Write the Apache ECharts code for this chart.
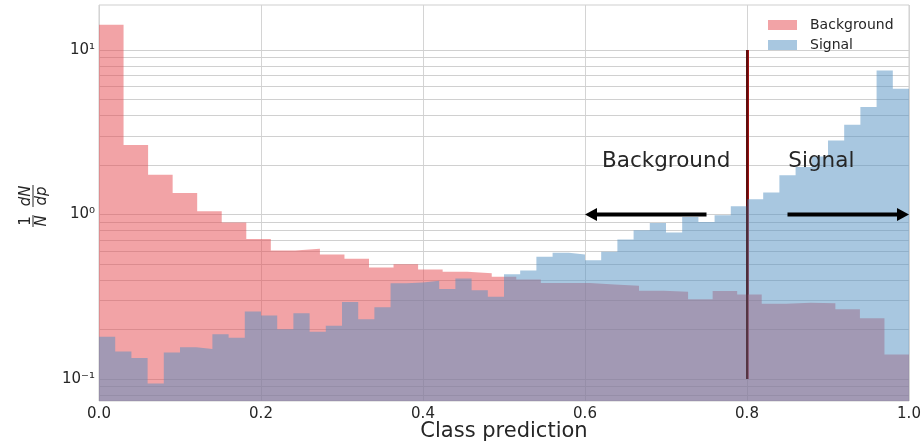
<!DOCTYPE html>
<html><head><meta charset="utf-8">
<script src="https://cdn.jsdelivr.net/npm/echarts@6/dist/echarts.min.js"></script>
<style>html,body{margin:0;padding:0;background:#fff}#c{width:922px;height:446px}</style>
</head><body><div id="c"></div>
<script>
// ---- data ----
const bgBinCount = 33;
const sigBinCount = 50;
const backgroundValues = [14.28, 2.644, 1.748, 1.352, 1.047, 0.894, 0.711, 0.605, 0.620, 0.571,
  0.539, 0.477, 0.499, 0.464, 0.449, 0.440, 0.418, 0.403, 0.384, 0.384,
  0.376, 0.369, 0.344, 0.339, 0.306, 0.343, 0.327, 0.287, 0.291, 0.289,
  0.266, 0.234, 0.141];
const signalValues = [0.181, 0.147, 0.134, 0.094, 0.145, 0.156, 0.152, 0.187, 0.178, 0.257,
  0.243, 0.201, 0.251, 0.194, 0.211, 0.294, 0.231, 0.273, 0.382, 0.386,
  0.396, 0.352, 0.409, 0.347, 0.316, 0.434, 0.457, 0.553, 0.585, 0.572,
  0.528, 0.593, 0.705, 0.803, 0.889, 0.778, 0.967, 0.902, 0.990, 1.123,
  1.238, 1.360, 1.732, 1.945, 2.258, 2.824, 3.516, 4.500, 7.510, 5.820];
const seriesNames = ['Background', 'Signal'];
const xTickValues = [0.0, 0.2, 0.4, 0.6, 0.8, 1.0];
const yTickExponents = [-1, 0, 1];
const yTickLabels = ['10\u207B\u00B9', '10\u2070', '10\u00B9'];
const cutValue = [0.8];
const cutRange = [0.1, 10];
const arrows = [[0.75, 0.6, 1.0], [0.85, 1.0, 1.0]];
const annotations = [[0.621, 2.09, 'Background'], [0.851, 2.09, 'Signal']];

// ---- helpers ----
const Y_MIN = 0.0735, Y_MAX = 18.8;
function stepData(vals, n) {
  const d = vals.map((v, i) => [i / n, v]);
  d.push([1, vals[vals.length - 1]]);
  return d;
}
const gridValues = [];
for (let e = -2; e <= 1; e++) for (let m = 1; m <= 9; m++) {
  const v = +(m * Math.pow(10, e)).toPrecision(3);
  if (v > Y_MIN && v < Y_MAX) gridValues.push(v);
}
const PINK = 'rgba(229,72,77,0.5)';
const BLUE = 'rgba(82,143,194,0.5)';
const TXT = '#262626';
const FONT = 'DejaVu Sans';
const cutLine = cutValue.map(c => [{coord: [c, cutRange[0]]}, {coord: [c, cutRange[1]]}]);

const chart = echarts.init(document.getElementById('c'), null, {renderer: 'canvas'});
chart.setOption({
  animation: false,
  backgroundColor: '#fff',
  grid: {left: 99, right: 13, top: 5, bottom: 45, show: true, borderColor: '#cfcfcf', borderWidth: 1,
    containLabel: false, outerBoundsMode: 'none'},
  legend: {
    orient: 'vertical', left: 768, top: 18, padding: 0, itemWidth: 29, itemHeight: 10, itemGap: 6,
    icon: 'rect',
    textStyle: {fontFamily: FONT, fontSize: 14, color: TXT, padding: [0, 0, 0, 8]},
    data: [{name: seriesNames[0], itemStyle: {color: PINK}}, {name: seriesNames[1], itemStyle: {color: BLUE}}]
  },
  xAxis: {
    type: 'value', min: 0, max: 1, interval: 0.2,
    axisLine: {show: false}, axisTick: {show: false},
    splitLine: {show: true, lineStyle: {color: '#d4d4d4', width: 1}},
    axisLabel: {fontFamily: FONT, fontSize: 15, color: TXT, margin: 6,
      formatter: v => { const i = xTickValues.findIndex(t => Math.abs(t - v) < 1e-9); return i >= 0 ? xTickValues[i].toFixed(1) : ''; }},
    name: 'Class prediction', nameLocation: 'middle', nameGap: 20, nameMoveOverlap: false,
    nameTextStyle: {fontFamily: FONT, fontSize: 21, color: TXT}
  },
  yAxis: {
    type: 'log', logBase: 10, min: Y_MIN, max: Y_MAX,
    axisLine: {show: false}, axisTick: {show: false}, splitLine: {show: false},
    axisLabel: {fontFamily: FONT, fontSize: 15, color: TXT, margin: 4,
      formatter: v => {
        const e = Math.round(Math.log10(v) * 1e6) / 1e6;
        const i = yTickExponents.indexOf(e);
        return i >= 0 ? yTickLabels[i] : '';
      }}
  },
  graphic: [{
    type: 'group', x: 33, y: 206, rotation: Math.PI / 2, silent: true,
    children: [
      {type: 'text', x: -15, y: -7, style: {text: '1', font: '15px "DejaVu Sans"', fill: TXT, align: 'center', verticalAlign: 'middle'}},
      {type: 'line', shape: {x1: -21, y1: 0, x2: -9, y2: 0}, style: {stroke: TXT, lineWidth: 1}},
      {type: 'text', x: -15, y: 9, style: {text: 'N', font: 'italic 15px "DejaVu Sans"', fill: TXT, align: 'center', verticalAlign: 'middle'}},
      {type: 'text', x: 10, y: -7, style: {text: 'dN', font: 'italic 15px "DejaVu Sans"', fill: TXT, align: 'center', verticalAlign: 'middle'}},
      {type: 'line', shape: {x1: -1, y1: 0, x2: 21, y2: 0}, style: {stroke: TXT, lineWidth: 1}},
      {type: 'text', x: 10, y: 9, style: {text: 'dp', font: 'italic 15px "DejaVu Sans"', fill: TXT, align: 'center', verticalAlign: 'middle'}}
    ]
  }],
  series: [
    {
      name: seriesNames[0], type: 'line', step: 'end', z: 2, silent: true,
      data: stepData(backgroundValues, bgBinCount),
      symbol: 'none', showSymbol: false,
      lineStyle: {width: 0, opacity: 0},
      areaStyle: {color: PINK, opacity: 1, origin: 'start'},
      markLine: {
        silent: true, symbol: 'none', z: 1, animation: false,
        label: {show: false},
        lineStyle: {color: '#d0d0d0', width: 1, type: 'solid'},
        emphasis: {disabled: true},
        data: gridValues.map(v => ({yAxis: v}))
      }
    },
    {
      name: seriesNames[1], type: 'line', step: 'end', z: 3, silent: true,
      data: stepData(signalValues, sigBinCount),
      symbol: 'none', showSymbol: false,
      lineStyle: {width: 0, opacity: 0},
      areaStyle: {color: BLUE, opacity: 1, origin: 'start'},
      markLine: {
        silent: true, symbol: 'none', z: 1, animation: false,
        label: {show: false},
        lineStyle: {color: '#a01212', width: 3, type: 'solid', opacity: 1},
        emphasis: {disabled: true},
        data: cutLine
      }
    },
    {
      type: 'line', z: 6, silent: true, data: [],
      markLine: {
        silent: true, symbol: 'none', z: 6, animation: false,
        label: {show: false},
        lineStyle: {color: '#1a0a0a', width: 1.6, type: 'solid', opacity: 0.6},
        emphasis: {disabled: true},
        data: cutLine
      }
    },
    {
      type: 'custom', z: 7, silent: true,
      data: arrows,
      renderItem: (params, api) => {
        const p0 = api.coord([api.value(0), api.value(2)]);
        const p1 = api.coord([api.value(1), api.value(2)]);
        const dir = p1[0] > p0[0] ? 1 : -1;
        const hl = 12, hw = 6.5;
        const bx = p1[0] - dir * hl;
        return {type: 'group', children: [
          {type: 'line', shape: {x1: p0[0], y1: p0[1], x2: bx + dir * 1, y2: p1[1]}, style: {stroke: '#000', lineWidth: 4}},
          {type: 'polygon', shape: {points: [[p1[0], p1[1]], [bx, p1[1] - hw], [bx, p1[1] + hw]]}, style: {fill: '#000'}}
        ]};
      }
    },
    {
      type: 'custom', z: 7, silent: true,
      data: annotations,
      renderItem: (params, api) => {
        const p = api.coord([api.value(0), api.value(1)]);
        return {type: 'text', x: p[0], y: p[1], style: {text: annotations[params.dataIndex][2], font: '21.5px "DejaVu Sans"', fill: TXT, align: 'left', verticalAlign: 'middle'}};
      }
    }
  ]
});
</script>
</body></html>
